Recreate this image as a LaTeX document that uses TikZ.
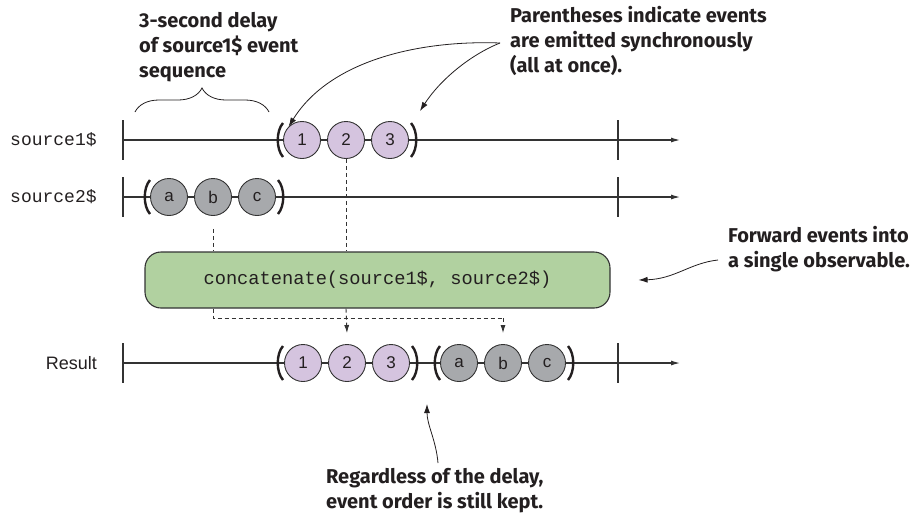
\documentclass[tikz,border=0pt]{standalone}
\usepackage{fontspec}
\setmainfont{Liberation Sans}
\newfontfamily\notefont{Fira Sans}
\newfontfamily\codefont{Liberation Mono}
\usetikzlibrary{arrows.meta,decorations.pathreplacing,calc}
\definecolor{ink}{HTML}{231F20}
\definecolor{linec}{HTML}{333333}
\definecolor{purp}{HTML}{D5C4DF}
\definecolor{grayc}{HTML}{A7A9AC}
\definecolor{greenc}{HTML}{B1D1A0}
\begin{document}
\begin{tikzpicture}[x=1pt,y=-1pt,
  every node/.style={inner sep=0pt, text=ink},
  tl/.style={draw=linec, line width=1.1pt, -{Latex[length=9pt,width=5pt]}},
  tick/.style={draw=linec, line width=1.1pt},
  ev/.style={circle, draw=linec, line width=0.9pt, minimum size=37pt, font=\fontsize{17}{17}\selectfont},
  pev/.style={ev, fill=purp},
  gev/.style={ev, fill=grayc},
  par/.style={draw=ink, line width=2.4pt},
  note/.style={font=\notefont\bfseries\fontsize{20}{25}\selectfont, align=left, anchor=base west},
  code/.style={font=\codefont\fontsize{18}{18}\selectfont},
  dsh/.style={draw=linec, line width=0.9pt, dash pattern=on 4pt off 3pt},
  ann/.style={draw=ink, line width=0.8pt, -{Latex[length=9pt,width=6pt]}}
]
\useasboundingbox (0,0) rectangle (921,517);

% labels
\node[code, anchor=west] (l1) at (10,140) {source1\$};
\node[code, anchor=west] (l2) at (10,197) {source2\$};
\node[anchor=east, font=\fontsize{18}{18}\selectfont] (l3) at (97,363) {Result};

% timelines
\coordinate (s1a) at (123,140); \coordinate (s1e) at (680,140);
\coordinate (s2a) at (123,197); \coordinate (s2e) at (680,197);
\coordinate (ra) at (123,363);  \coordinate (re) at (680,363);
\draw[tl] (s1a) -- (s1e);
\draw[tl] (s2a) -- (s2e);
\draw[tl] (ra) -- (re);
\foreach \y in {140,197,363}{
  \draw[tick] (123,\y-20) -- (123,\y+20);
  \draw[tick] (618,\y-20) -- (618,\y+20);
}

% parentheses
\newcommand\lparen[2]{\draw[par] (#1+4,#2-17) .. controls (#1-3,#2-9) and (#1-3,#2+9) .. (#1+4,#2+17);}
\newcommand\rparen[2]{\draw[par] (#1-4,#2-17) .. controls (#1+3,#2-9) and (#1+3,#2+9) .. (#1-4,#2+17);}

% source1
\lparen{279}{140}\rparen{415}{140}
\node[pev] (s11) at (302,140) {1};
\node[pev] (s12) at (346,140) {2};
\node[pev] (s13) at (390,140) {3};

% source2
\lparen{146}{197}\rparen{282}{197}
\node[gev] (s2a) at (169,197) {a};
\node[gev] (s2b) at (213,197) {b};
\node[gev] (s2c) at (257,197) {c};

% result
\lparen{279}{363}\rparen{416}{363}
\lparen{436}{363}\rparen{572}{363}
\node[pev] (r1) at (303,363) {1};
\node[pev] (r2) at (347,363) {2};
\node[pev] (r3) at (391,363) {3};
\node[gev] (ra1) at (459,363) {a};
\node[gev] (rb) at (503,363) {b};
\node[gev] (rc) at (547,363) {c};

% operator box
\node[draw=linec, line width=1.1pt, fill=greenc, rounded corners=16pt,
      minimum width=465pt, minimum height=56pt, code, font=\codefont\fontsize{18.7}{18.7}\selectfont] (box) at (377.5,280) {concatenate(source1\$, source2\$)};

% dashed connections
\draw[dsh] (s12.south) -- (s12.south |- box.north);
\draw[dsh] ([yshift=-13pt]s2b.south) -- (s2b.south |- box.north);
\coordinate (jl) at (213,318);
\coordinate (jr) at (503,318);
\draw[dsh, -{Latex[length=8pt,width=5pt]}] (s12.south |- box.south) -- ([yshift=11pt]r2.north);
\draw[dsh] (s2b.south |- box.south) -- (jl) -- (jr);
\draw[dsh, -{Latex[length=8pt,width=5pt]}] (jr) -- ([yshift=11pt]rb.north);

% brace
\coordinate (br1) at (135,112);
\coordinate (br2) at (269,112);
\draw[draw=ink, line width=0.8pt, decorate, decoration={brace, amplitude=24pt, aspect=0.5}] (br1) -- (br2);

% annotations
\node[note] (n1) at (139,77) {3-second delay\\of source1\$ event\\sequence};
\node[note] (n2) at (510,72) {Parentheses indicate events\\are emitted synchronously\\(all at once).};
\node[note] (n3) at (728,267) {Forward events into\\a single observable.};
\node[note] (n4) at (326,508) {Regardless of the delay,\\event order is still kept.};

\coordinate (p2s) at (500,43);
\coordinate (p2e) at (420,111);
\draw[ann] (p2s) .. controls (420,40) and (330,60) .. (s11.north west);
\draw[ann] (p2s) .. controls (470,55) and (440,80) .. (p2e);
\coordinate (p3s) at (718,260);
\draw[ann] (p3s) .. controls (690,263) and (675,279) .. ([xshift=28pt]box.east);
\coordinate (p4s) at (438,463);
\coordinate (p4e) at (427,404);
\draw[ann] (p4s) .. controls (436,440) and (427,425) .. (p4e);
\end{tikzpicture}
\end{document}
